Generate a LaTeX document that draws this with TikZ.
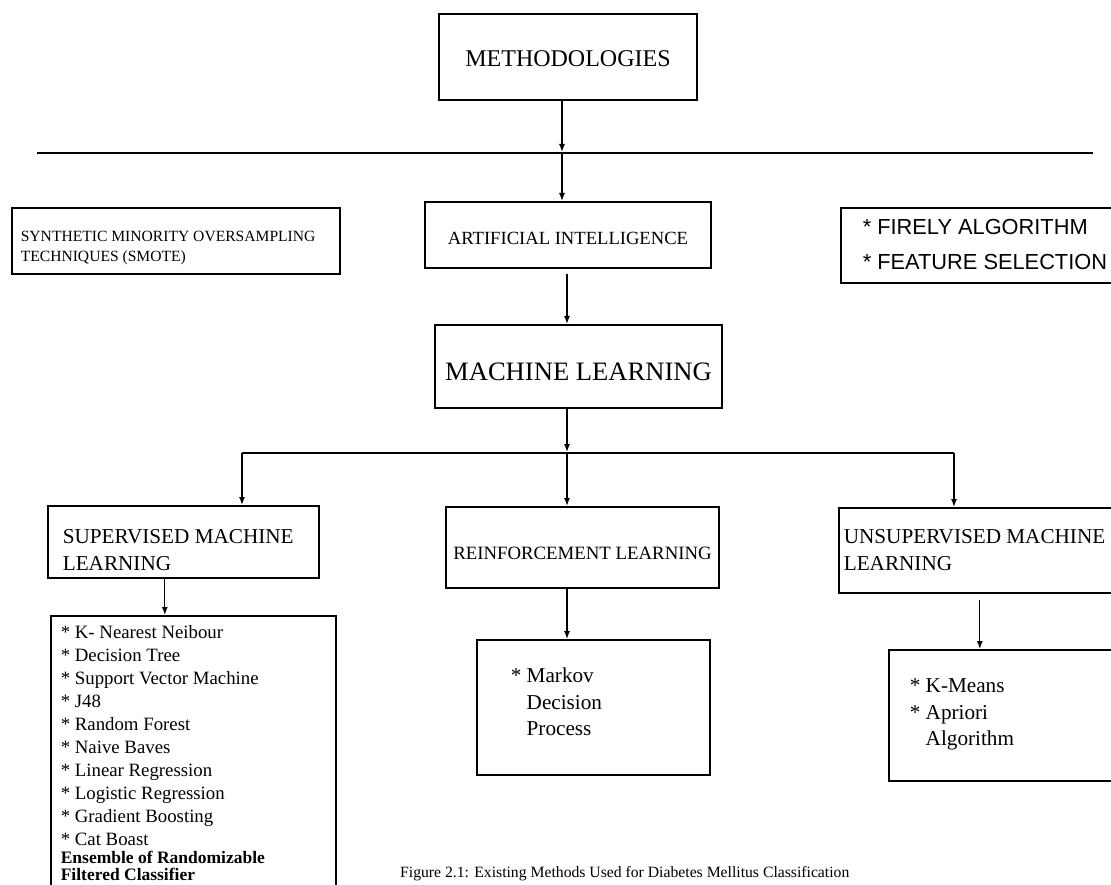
\documentclass[tikz,border=0pt]{standalone}
\usepackage{fontspec}
\setmainfont{Liberation Serif}
\newfontfamily\firefont{Liberation Sans}
\usepackage{tikz}
\usetikzlibrary{arrows.meta,positioning}
\newcommand{\fsz}[2]{\fontsize{#1}{#2}\selectfont}
\newcommand{\itm}{*\ }
\newcommand{\ind}{\hphantom{*}\ }
\tikzstyle{box} = [draw, rectangle, line width=1.6pt, inner ysep=0pt]
\tikzstyle{arrow} = [line width=1.3pt, -{Latex[length=8pt,width=6pt]}]

\begin{document}
\begin{tikzpicture}[x=1pt, y=-1pt]
\clip (0,0) rectangle (1111,885);

% top of the tree
\node[box, anchor=north, minimum width=258, text height=53, text depth=33,
  font=\fsz{24}{28}] (meth) at (568,13) {METHODOLOGIES};
\coordinate (rule west) at (37,153);
\coordinate (rule east) at (1093,153);
\coordinate (split) at (562,153);
\draw[line width=2.4pt] (rule west) -- (rule east);

% second row
\node[box, anchor=north west, inner xsep=9, text height=34, text depth=32,
  font=\fsz{15.6}{20}] (smote) at (11,207)
  {\parbox[t]{310pt}{\raggedright SYNTHETIC MINORITY OVERSAMPLING\\TECHNIQUES (SMOTE)}};
\node[box, anchor=north, minimum width=286, text height=43, text depth=23,
  font=\fsz{18.6}{22}] (ai) at (568,201) {ARTIFICIAL INTELLIGENCE};
\node[box, anchor=north west, inner xsep=22, text height=27, text depth=48,
  font=\firefont\fsz{21.8}{35}] (fire) at (840,207)
  {\parbox[t]{260pt}{\raggedright \itm FIRELY ALGORITHM\\\itm FEATURE SELECTION}};

\node[box, anchor=north, minimum width=287, text height=56, text depth=27,
  font=\fsz{26.6}{30}] (ml) at (578.5,324) {MACHINE LEARNING};

% learning types
\coordinate (bus) at (567,453);
\coordinate (bus west) at (242,453);
\coordinate (bus east) at (954,453);
\draw[line width=2pt] (bus west) -- (bus east);

\node[box, anchor=north west, inner xsep=15, text height=38, text depth=34,
  font=\fsz{21.2}{27}] (sup) at (47,505)
  {\parbox[t]{241pt}{\raggedright SUPERVISED MACHINE\\LEARNING}};
\node[box, anchor=north, minimum width=273, text height=53, text depth=28,
  font=\fsz{18.8}{22}] (rein) at (582.5,506) {REINFORCEMENT LEARNING};
\node[box, anchor=north west, inner xsep=5, text height=36, text depth=49,
  font=\fsz{21.2}{27}] (unsup) at (838,507)
  {\parbox[t]{292pt}{\raggedright UNSUPERVISED MACHINE\\LEARNING}};

% algorithms
\node[box, anchor=north west, inner xsep=10, text height=23, text depth=262,
  font=\fsz{18.8}{23}] (suplist) at (50,615)
  {\parbox[t]{265pt}{\raggedright
    \itm K- Nearest Neibour\\\itm Decision Tree\\\itm Support Vector Machine\\\itm J48\\
    \itm Random Forest\\\itm Naive Baves\\\itm Linear Regression\\\itm Logistic Regression\\
    \itm Gradient Boosting\\\itm Cat Boast\par
    \fsz{17.5}{17.5}\bfseries Ensemble of Randomizable\\Filtered Classifier\par}};
\node[box, anchor=north west, inner xsep=34, text height=43, text depth=92,
  font=\fsz{21.2}{26.5}] (markov) at (476,639)
  {\parbox[t]{165pt}{\raggedright \itm Markov\\\ind Decision\\\ind Process}};
\node[box, anchor=north west, inner xsep=21, text height=43, text depth=88,
  font=\fsz{21.2}{26.5}] (kmeans) at (888,649)
  {\parbox[t]{210pt}{\raggedright \itm K-Means\\\itm Apriori\\\ind Algorithm}};

% connectors
\draw[arrow] (meth.south -| split) -- ([yshift=1pt]split);
\draw[arrow] (split) -- (ai.north -| split);
\draw[arrow] ([yshift=-5pt]ai.south -| bus) -- (ml.north -| bus);
\draw[arrow] (ml.south -| bus) -- ([yshift=1pt]bus);
\draw[arrow] (bus west) -- (sup.north -| bus west);
\draw[arrow] (bus) -- (rein.north -| bus);
\draw[arrow] (bus east) -- (unsup.north -| bus east);
\draw[arrow] ([xshift=-18.5pt]sup.south) -- ([xshift=-18.5pt]sup.south |- suplist.north);
\draw[arrow] ([xshift=-15.5pt]rein.south) -- ([xshift=-15.5pt]rein.south |- markov.north);
\draw[arrow] ([xshift=-10pt,yshift=-6pt]unsup.south) -- ([xshift=-10pt]unsup.south |- kmeans.north);

\node[anchor=base west, inner sep=0, font=\fsz{15.7}{18}] (caption) at (400,877)
  {Figure 2.1: Existing Methods Used for Diabetes Mellitus Classification};
\end{tikzpicture}
\end{document}
